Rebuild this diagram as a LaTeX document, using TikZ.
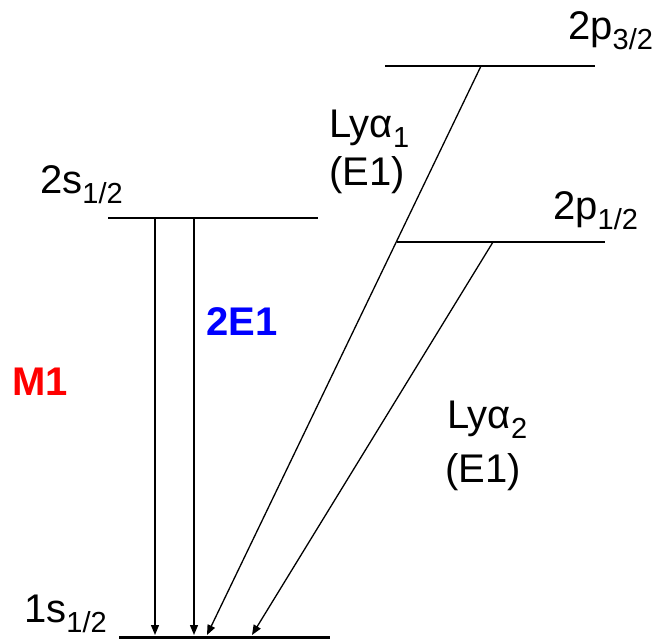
\documentclass[tikz,border=0pt]{standalone}
\usepackage{fontspec}
\setmainfont{Liberation Sans}
\usetikzlibrary{arrows.meta}
\newcommand\lvsub[1]{\raisebox{-10pt}{\fontsize{29}{29}\selectfont #1}}
\tikzset{
  level/.style={line width=1.8pt},
  groundlevel/.style={line width=3.6pt},
  trans/.style={line width=1.3pt,-{Triangle[length=10pt,width=8pt]}},
  lbl/.style={anchor=base west,inner sep=0pt,font=\fontsize{40}{48}\selectfont},
  boldlbl/.style={anchor=base west,inner sep=0pt,font=\fontsize{40}{48}\selectfont\bfseries}
}
\begin{document}
\begin{tikzpicture}[x=1pt,y=-1pt]
\useasboundingbox (0,0) rectangle (659,642);
% level end points
\coordinate (p32L) at (385,66);
\coordinate (p32R) at (595,66);
\coordinate (p12L) at (397,242);
\coordinate (p12R) at (605,242);
\coordinate (s2L) at (108,218);
\coordinate (s2R) at (318,218);
\coordinate (s1L) at (119,637.5);
\coordinate (s1R) at (330,637.5);
% transition ends
\coordinate (m1top) at (155,218);
\coordinate (m1bot) at (155,635);
\coordinate (e2top) at (194,218);
\coordinate (e2bot) at (194,635);
\coordinate (ly1top) at (481,66);
\coordinate (ly1bot) at (207,635);
\coordinate (ly2top) at (493,242);
\coordinate (ly2bot) at (252,635);
% levels
\draw[level] (p32L) -- (p32R);
\draw[level] (p12L) -- (p12R);
\draw[level] (s2L) -- (s2R);
\draw[groundlevel] (s1L) -- (s1R);
% transitions
\draw[trans] (m1top) -- (m1bot);
\draw[trans] (e2top) -- (e2bot);
\draw[trans] (ly1top) -- (ly1bot);
\draw[trans] (ly2top) -- (ly2bot);
% labels
\node[lbl] (t2p32) at (568,40) {2p\lvsub{3/2}};
\node[lbl] (t2p12) at (553,219) {2p\lvsub{1/2}};
\node[lbl] (t2s12) at (40,193) {2s\lvsub{1/2}};
\node[lbl] (t1s12) at (24,622) {1s\lvsub{1/2}};
\node[lbl] (tly1) at (329,137) {Lyα\lvsub{1}};
\node[lbl] (tly1e) at (329,185) {(E1)};
\node[lbl] (tly2) at (447,428) {Lyα\lvsub{2}};
\node[lbl] (tly2e) at (445,482) {(E1)};
\node[boldlbl,text={rgb,255:red,255;green,0;blue,0}] (tm1) at (12,395) {M1};
\node[boldlbl,text={rgb,255:red,0;green,0;blue,255}] (t2e1) at (206,335) {2E1};
\end{tikzpicture}
\end{document}
